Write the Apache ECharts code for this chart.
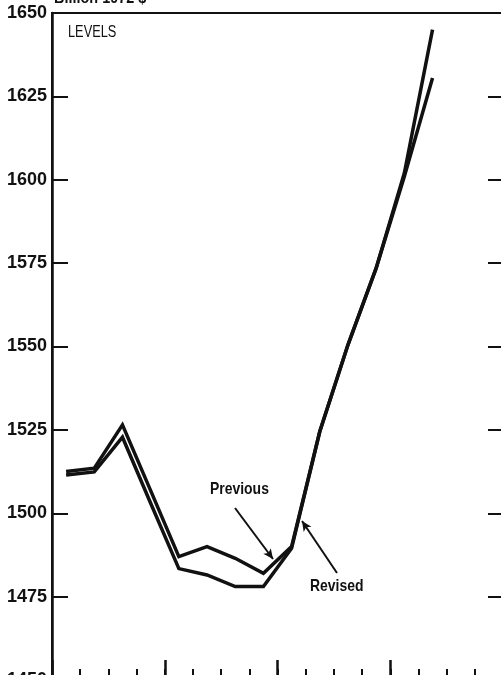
<!DOCTYPE html>
<html>
<head>
<meta charset="utf-8">
<script src="https://cdn.jsdelivr.net/npm/echarts@6/dist/echarts.min.js"></script>
<style>
  html, body { margin: 0; padding: 0; background: #fff; }
  #main { width: 501px; height: 675px; }
</style>
</head>
<body>
<div id="main"></div>
<script>
// quarters over four years, points sit in the middle of each quarter
var quarters = ['Q1', 'Q2', 'Q3', 'Q4', 'Q1', 'Q2', 'Q3', 'Q4', 'Q1', 'Q2', 'Q3', 'Q4', 'Q1', 'Q2', 'Q3', 'Q4'];
var years = ['Y1', 'Y2', 'Y3', 'Y4'];
var yTickLabels = [1450, 1475, 1500, 1525, 1550, 1575, 1600, 1625, 1650];

// Billion 1972 $
var previous = [1512.5, 1513.5, 1526.5, 1506.8, 1487, 1490, 1486.5, 1482, 1490, 1524.5, 1550.5, 1573.5, 1602, 1645];
var revised = [1511.5, 1512.4, 1522.8, 1503, 1483.4, 1481.5, 1478, 1478, 1489.5, 1524.5, 1550.5, 1573.5, 1601, 1630.5];

var chart = echarts.init(document.getElementById('main'), null, { renderer: 'canvas' });

var ink = '#111';
var font = '"Liberation Sans", Arial, sans-serif';

var option = {
  backgroundColor: '#fff',
  animation: false,
  grid: {
    left: 52,
    top: 13,
    width: 451,
    height: 667,
    outerBoundsMode: 'none',
    containLabel: false,
    show: true,
    borderColor: ink,
    borderWidth: 2
  },
  xAxis: [
    {
      type: 'category',
      data: quarters,
      boundaryGap: true,
      position: 'bottom',
      axisLine: { show: false },
      axisTick: { show: true, inside: true, interval: 0, length: 11, lineStyle: { color: ink, width: 2 } },
      axisLabel: { show: false },
      splitLine: { show: false }
    },
    {
      type: 'category',
      data: years,
      boundaryGap: true,
      position: 'bottom',
      axisLine: { show: false },
      axisTick: { show: true, inside: true, interval: 0, length: 20, lineStyle: { color: ink, width: 2.5 } },
      axisLabel: { show: false },
      splitLine: { show: false }
    }
  ],
  yAxis: [
    {
      type: 'value',
      min: 1450,
      max: 1650,
      interval: 25,
      position: 'left',
      axisLine: { show: true, lineStyle: { color: ink, width: 2.5 } },
      axisTick: { show: true, inside: true, length: 16, lineStyle: { color: ink, width: 2 } },
      axisLabel: {
        margin: 5,
        color: ink,
        fontFamily: font,
        fontWeight: 'bold',
        fontSize: 18,
        formatter: function (v) { return yTickLabels.indexOf(v) >= 0 ? String(v) : ''; }
      },
      splitLine: { show: false }
    },
    {
      type: 'value',
      min: 1450,
      max: 1650,
      interval: 25,
      position: 'right',
      axisLine: { show: true, lineStyle: { color: ink, width: 2.5 } },
      axisTick: { show: true, inside: true, length: 15, lineStyle: { color: ink, width: 2 } },
      axisLabel: { show: false },
      splitLine: { show: false }
    }
  ],
  series: [
    {
      name: 'Previous',
      type: 'line',
      xAxisIndex: 0,
      yAxisIndex: 0,
      data: previous,
      symbol: 'none',
      lineStyle: { color: ink, width: 3.5, join: 'miter' },
      markLine: {
        silent: true,
        symbol: ['none', 'arrow'],
        symbolSize: [7, 10],
        label: { show: false },
        lineStyle: { color: ink, width: 2, type: 'solid' },
        data: [
          [{ x: 235, y: 508 }, { x: 273, y: 559 }],
          [{ x: 337, y: 573 }, { x: 302, y: 521 }]
        ]
      }
    },
    {
      name: 'Revised',
      type: 'line',
      xAxisIndex: 0,
      yAxisIndex: 0,
      data: revised,
      symbol: 'none',
      lineStyle: { color: ink, width: 3.5, join: 'miter' }
    }
  ],
  graphic: [
    {
      type: 'text',
      x: 54,
      y: -10,
      scaleX: 0.85,
      style: { text: 'Billion 1972 $', fill: ink, font: 'bold 17px ' + font }
    },
    {
      type: 'text',
      x: 68,
      y: 25,
      scaleX: 0.8,
      style: { text: 'LEVELS', fill: ink, font: '16px ' + font }
    },
    {
      type: 'text',
      x: 210,
      y: 481,
      scaleX: 0.82,
      style: { text: 'Previous', fill: ink, font: 'bold 17px ' + font }
    },
    {
      type: 'text',
      x: 310,
      y: 578,
      scaleX: 0.82,
      style: { text: 'Revised', fill: ink, font: 'bold 17px ' + font }
    }
  ]
};

chart.setOption(option);
</script>
</body>
</html>
